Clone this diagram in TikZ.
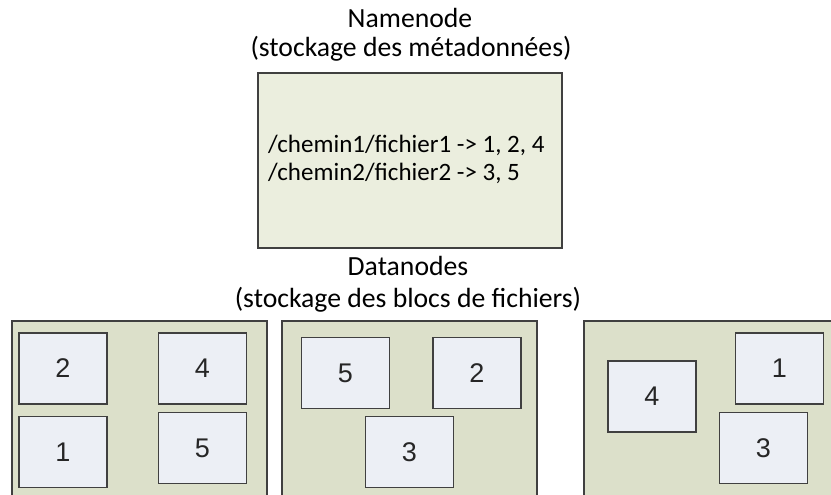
\documentclass[tikz,border=0pt]{standalone}
\usepackage{fontspec}
\setmainfont{Carlito}
\newfontfamily\arialf{Liberation Sans}
\definecolor{nnfill}{HTML}{EBEEDE}
\definecolor{dnfill}{HTML}{DCE0CA}
\definecolor{blkfill}{HTML}{ECEFF5}
\definecolor{edge}{HTML}{404040}
\begin{document}
\begin{tikzpicture}[x=1pt,y=-1pt,
  title/.style={anchor=base, font=\fontsize{27.7}{32}\selectfont, inner sep=0pt},
  nntext/.style={anchor=base west, font=\fontsize{25}{29}\selectfont, inner sep=0pt},
  nnbox/.style={draw=edge, line width=1.3pt, fill=nnfill},
  dnbox/.style={draw=edge, line width=1.3pt, fill=dnfill},
  blk/.style={draw=edge, line width=1.3pt, fill=blkfill, minimum width=88pt, minimum height=71pt, inner sep=0pt, font=\arialf\fontsize{27}{30}\selectfont, text=black!85}]
\useasboundingbox (0,0) rectangle (831,495);
\clip (0,0) rectangle (831,495);
\fill[white] (0,0) rectangle (831,495);

% titles
\node[title] (t1) at (410,28) {Namenode};
\node[title] (t2) at (411,57) {(stockage des métadonnées)};
\node[title] (t3) at (408,275) {Datanodes};
\node[title] (t4) at (408,307) {(stockage des blocs de fichiers)};

% namenode
\draw[nnbox] (258,73) rectangle (562,248);
\node[nntext] (l1) at (268,152) {/chemin1/fichier1 -> 1, 2, 4};
\node[nntext] (l2) at (268,180) {/chemin2/fichier2 -> 3, 5};

% datanodes
\draw[dnbox] (12,321) rectangle (267,510);
\draw[dnbox] (282,321) rectangle (537,510);
\draw[dnbox] (584,321) rectangle (850,510);

% blocks
\node[blk] (a2) at (63,368.5) {2};
\node[blk] (a4) at (202.5,368.5) {4};
\node[blk] (a1) at (63,452) {1};
\node[blk] (a5) at (202.5,448) {5};

\node[blk] (b5) at (345.5,373) {5};
\node[blk] (b2) at (477,373) {2};
\node[blk] (b3) at (409.5,452) {3};

\node[blk] (c4) at (652,396.5) {4};
\node[blk] (c1) at (779.5,368.5) {1};
\node[blk] (c3) at (763.5,448) {3};
\end{tikzpicture}
\end{document}
